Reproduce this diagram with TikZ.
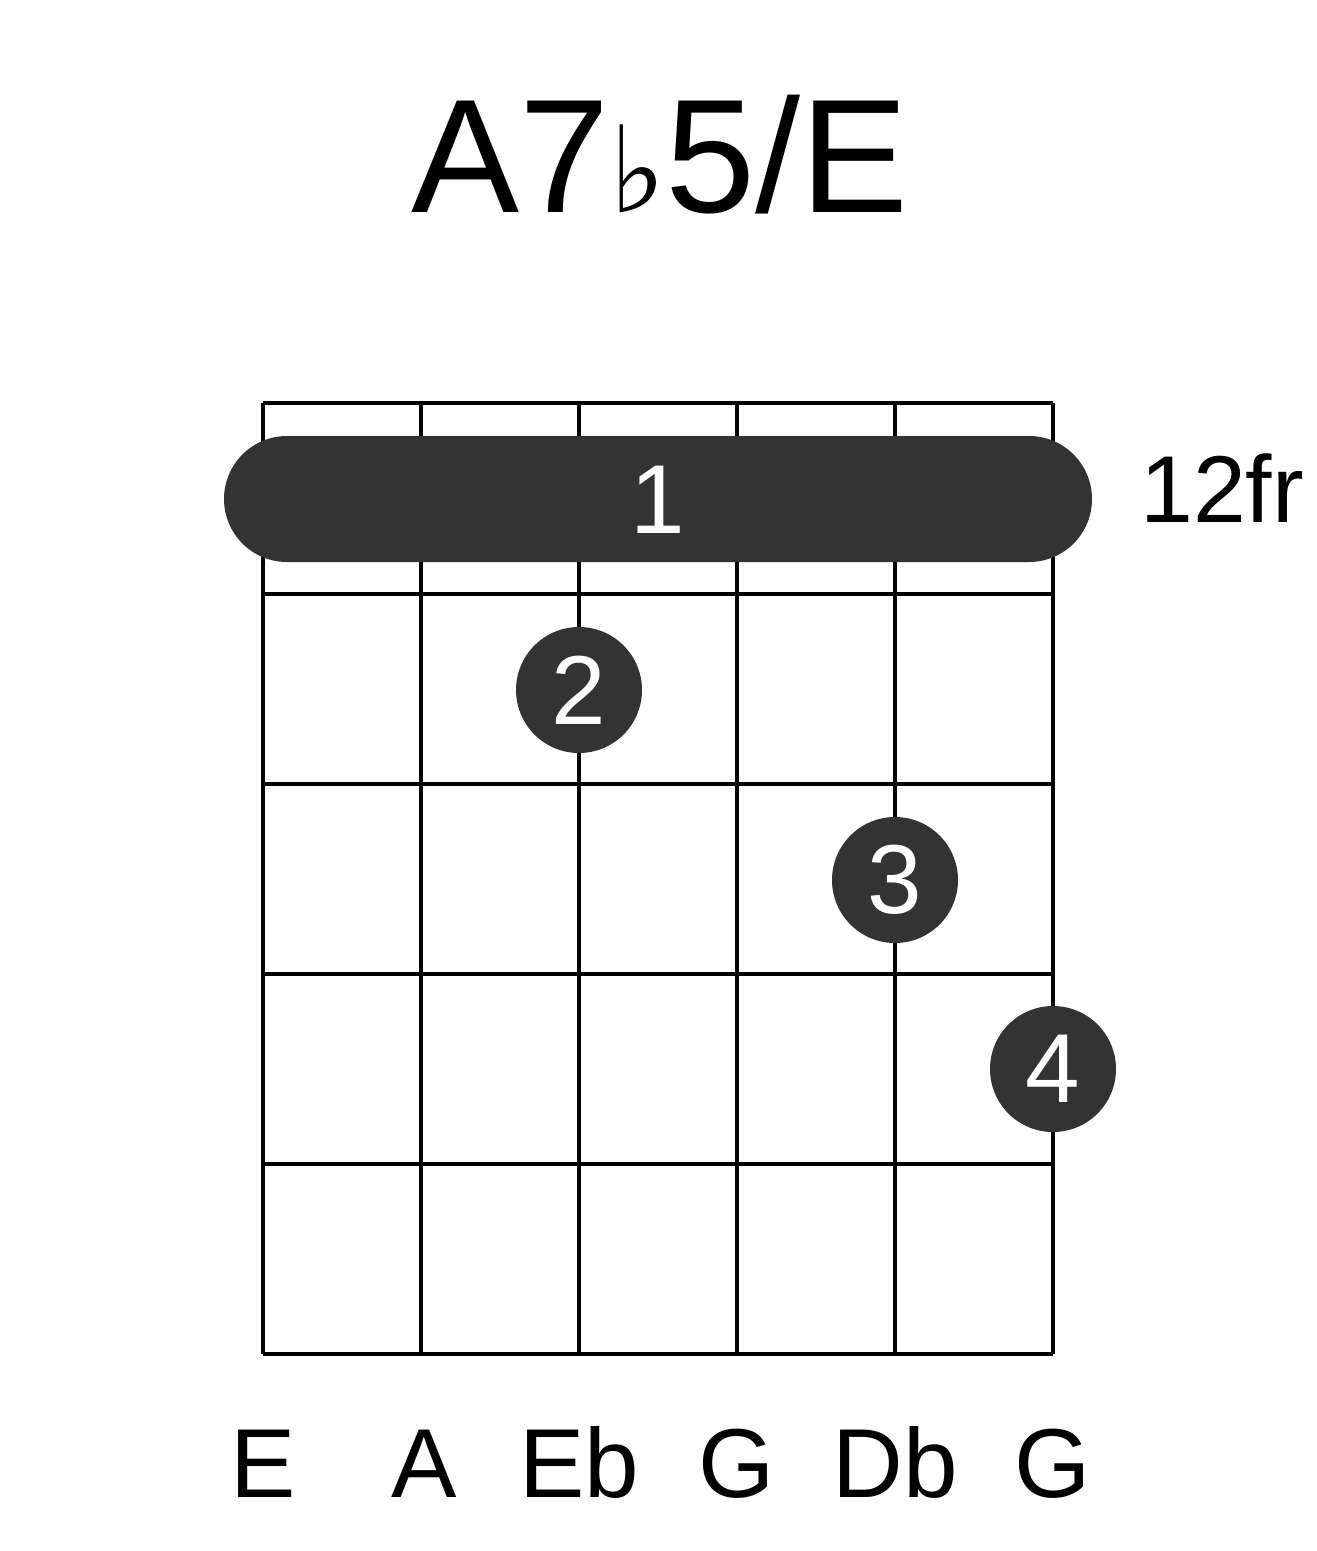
\documentclass[tikz,border=0pt]{standalone}
\usepackage{fontspec}
\setmainfont{Liberation Sans}
\newfontfamily\symfont{DejaVu Sans}
\definecolor{dotc}{HTML}{333333}
\begin{document}
\begin{tikzpicture}[x=1pt,y=-1pt,
  gridline/.style={line width=4pt,black},
  fdot/.style={circle,fill=dotc,minimum size=126pt,inner sep=0pt,text=white,font=\fontsize{98}{98}\selectfont},
  lbl/.style={font=\fontsize{98}{98}\selectfont,anchor=base}]
\useasboundingbox (0,0) rectangle (1317,1551);
\foreach \x in {263,421,579,737,895,1053} \draw[gridline] (\x,403) -- (\x,1354);
\foreach \y in {403,594,784,974,1164,1354} \draw[gridline] (263,\y) -- (1053,\y);
\node[draw=none,fill=dotc,rounded corners=63pt,minimum width=868pt,minimum height=126pt,inner sep=0pt] (barre) at (658,499) {};
\node[text=white,font=\fontsize{98}{98}\selectfont] (one) at (658,500) {1};
\node[fdot] (d2) at (579,690) {2};
\node[fdot] (d3) at (895,880) {3};
\node[fdot] (d4) at (1053,1069) {4};
\node[font=\fontsize{95}{95}\selectfont,anchor=base west,inner sep=0pt] (fr) at (1140,522) {12fr};
\node[font=\fontsize{162}{162}\selectfont,anchor=base] (title) at (660,212) {A7{\symfont\fontsize{120}{120}\selectfont ♭}5/E};
\node[lbl] (s1) at (263,1497) {E};
\node[lbl] (s2) at (424,1497) {A};
\node[lbl] (s3) at (579,1497) {Eb};
\node[lbl] (s4) at (737,1497) {G};
\node[lbl] (s5) at (895,1497) {Db};
\node[lbl] (s6) at (1053,1497) {G};
\end{tikzpicture}
\end{document}
